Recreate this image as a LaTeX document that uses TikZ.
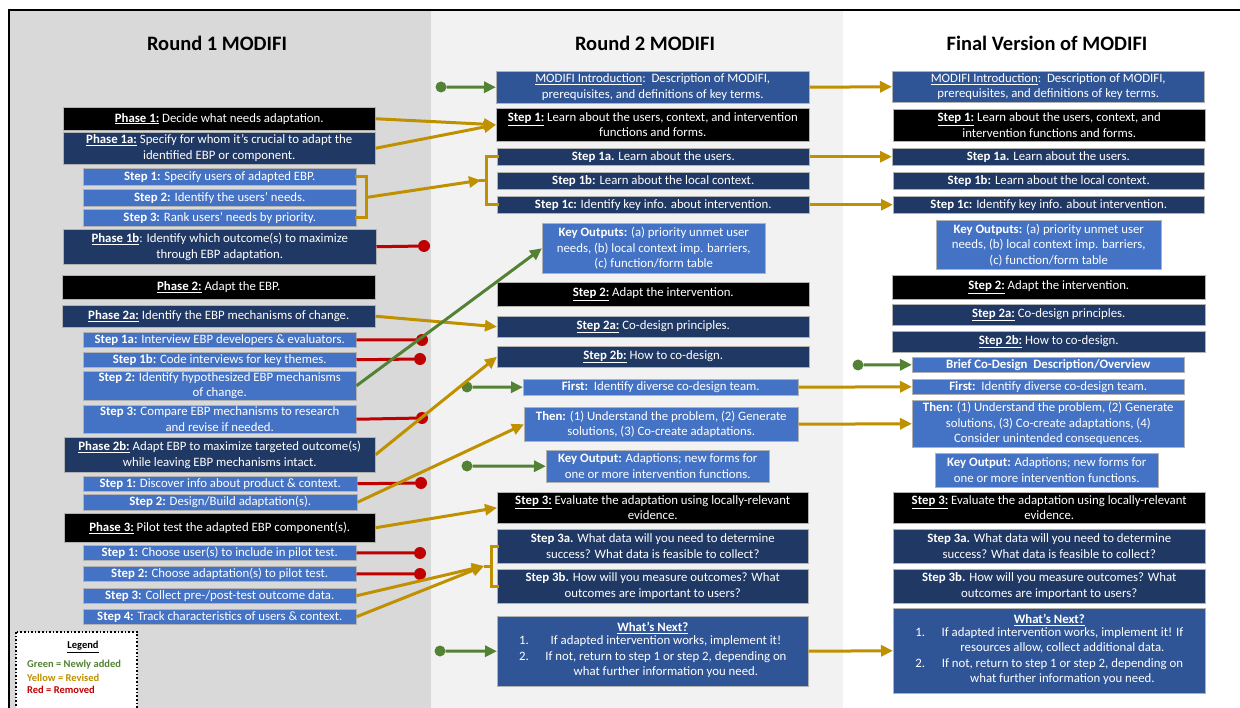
\documentclass[tikz,border=0pt]{standalone}
\usepackage{fontspec}
\setmainfont{Carlito}
\usetikzlibrary{arrows.meta}
\definecolor{navy}{HTML}{203864}
\definecolor{medblue}{HTML}{4472C4}
\definecolor{introblue}{HTML}{2F5597}
\definecolor{gold}{HTML}{BF9000}
\definecolor{redx}{HTML}{C00000}
\definecolor{greenx}{HTML}{548235}
\definecolor{colA}{HTML}{D9D9D9}
\definecolor{colB}{HTML}{F2F2F2}
\newcommand\fs{\fontsize{12.8}{15.5}\selectfont}
\newcommand\ulb[1]{\underline{\textbf{#1}}}
\tikzset{
 bx/.style={anchor=north west, inner sep=0pt, align=center, text=white, font=\fs, draw=black!30, line width=0.5pt},
 blk/.style={bx, fill=black},
 nav/.style={bx, fill=navy},
 med/.style={bx, fill=medblue},
 itr/.style={bx, fill=introblue},
 ttl/.style={font=\fontsize{20.5}{24}\selectfont\bfseries},
 yl/.style={line width=3pt, draw=gold},
 yarr/.style={yl, -{Triangle[length=12pt,width=11pt]}},
 garr/.style={line width=3pt, draw=greenx, -{Triangle[length=12pt,width=11pt]}},
 rl/.style={line width=3pt, draw=redx},
 rdot/.style={circle, fill=redx, inner sep=0pt, minimum size=12pt},
 gdot/.style={circle, fill=greenx, inner sep=0pt, minimum size=11pt},
 lg/.style={font=\fontsize{10.5}{12}\selectfont\bfseries, anchor=west, inner sep=0pt}
}
\begin{document}
\begin{tikzpicture}[x=1pt,y=-1pt]
\useasboundingbox (0,0) rectangle (1240,708);
% backgrounds
\fill[white] (0,0) rectangle (1240,708);
\fill[colA] (9,10) rectangle (431,708);
\fill[colB] (431,10) rectangle (843,708);
\draw[line width=2pt] (1245,10) -- (9,10) -- (9,712);
% titles
\node[ttl] (t1) at (217,43) {Round 1 MODIFI};
\node[ttl] (t2) at (645,43) {Round 2 MODIFI};
\node[ttl] (t3) at (1047,43) {Final Version of MODIFI};
% ---------- column 1
\node[blk, minimum width=312pt, minimum height=23pt] (p1) at (63,107) {\ulb{Phase 1:} Decide what needs adaptation.};
\node[nav, minimum width=312pt, minimum height=32pt] (p1a) at (63,132) {\ulb{Phase 1a:} Specify for whom it's crucial to adapt the\\identified EBP or component.};
\node[med, minimum width=273pt, minimum height=17pt] (s1) at (83,168) {\textbf{Step 1:} Specify users of adapted EBP.};
\node[med, minimum width=273pt, minimum height=17pt] (s2) at (83,189) {\textbf{Step 2:} Identify the users' needs.};
\node[med, minimum width=273pt, minimum height=17pt] (s3) at (83,209) {\textbf{Step 3:} Rank users' needs by priority.};
\node[nav, minimum width=313pt, minimum height=35pt] (p1b) at (63,229) {\ulb{Phase 1b}: Identify which outcome(s) to maximize\\through EBP adaptation.};
\node[blk, minimum width=313pt, minimum height=24pt] (p2) at (62,275) {\ulb{Phase 2:} Adapt the EBP.};
\node[nav, minimum width=313pt, minimum height=22pt] (p2a) at (62,305) {\ulb{Phase 2a:} Identify the EBP mechanisms of change.};
\node[med, minimum width=273pt, minimum height=15pt] (s1a) at (83,332) {\textbf{Step 1a:} Interview EBP developers \& evaluators.};
\node[med, minimum width=273pt, minimum height=15pt] (s1b) at (83,352) {\textbf{Step 1b:} Code interviews for key themes.};
\node[med, minimum width=273pt, minimum height=29pt] (s2m) at (83,371) {\textbf{Step 2:} Identify hypothesized EBP mechanisms\\of change.};
\node[med, minimum width=273pt, minimum height=28pt] (s3m) at (83,405) {\textbf{Step 3:} Compare EBP mechanisms to research\\and revise if needed.};
\node[nav, minimum width=311pt, minimum height=35pt] (p2b) at (64,437) {\ulb{Phase 2b:} Adapt EBP to maximize targeted outcome(s)\\while leaving EBP mechanisms intact.};
\node[med, minimum width=274pt, minimum height=15pt] (s1d) at (83,476) {\textbf{Step 1:} Discover info about product \& context.};
\node[med, minimum width=274pt, minimum height=16pt] (s2d) at (83,494) {\textbf{Step 2:} Design/Build adaptation(s).};
\node[blk, minimum width=311pt, minimum height=29pt] (p3) at (64,513) {\ulb{Phase 3:} Pilot test the adapted EBP component(s).};
\node[med, minimum width=273pt, minimum height=15pt] (s1p) at (83,545) {\textbf{Step 1:} Choose user(s) to include in pilot test.};
\node[med, minimum width=273pt, minimum height=15pt] (s2p) at (83,566) {\textbf{Step 2:} Choose adaptation(s) to pilot test.};
\node[med, minimum width=273pt, minimum height=15pt] (s3p) at (83,588) {\textbf{Step 3:} Collect pre-/post-test outcome data.};
\node[med, minimum width=273pt, minimum height=15pt] (s4p) at (83,609) {\textbf{Step 4:} Track characteristics of users \& context.};
% legend
\draw[line width=1.6pt, dotted, fill=white] (16,632) rectangle (137,712);
\node[font=\fontsize{10.5}{12}\selectfont\bfseries, inner sep=0pt] (lgt) at (83,647) {\underline{Legend}};
\node[lg, text=greenx] (lg1) at (27,665) {Green = Newly added};
\node[lg, text=gold] (lg2) at (27,678) {Yellow = Revised};
\node[lg, text=redx] (lg3) at (27,690) {Red = Removed};
% ---------- column 2
\node[itr, minimum width=313pt, minimum height=32pt] (intro) at (496,71) {\underline{MODIFI Introduction}:\ \ Description of MODIFI,\\prerequisites, and definitions of key terms.};
\node[blk, minimum width=313pt, minimum height=33pt] (st1) at (496,108) {\ulb{Step 1:} Learn about the users, context, and intervention\\functions and forms.};
\node[nav, minimum width=312pt, minimum height=17pt] (c1a) at (497,148) {\textbf{Step 1a.} Learn about the users.};
\node[nav, minimum width=312pt, minimum height=17pt] (c1b) at (497,172) {\textbf{Step 1b:} Learn about the local context.};
\node[nav, minimum width=312pt, minimum height=17pt] (c1c) at (497,196) {\textbf{Step 1c:} Identify key info. about intervention.};
\node[med, minimum width=223pt, minimum height=50pt] (ko) at (542,223) {\textbf{Key Outputs:} (a) priority unmet user\\needs, (b) local context imp. barriers,\\(c) function/form table};
\node[blk, minimum width=312pt, minimum height=24pt] (st2) at (497,282) {\ulb{Step 2:} Adapt the intervention.};
\node[nav, minimum width=312pt, minimum height=21pt] (c2a) at (497,316) {\ulb{Step 2a:} Co-design principles.};
\node[nav, minimum width=312pt, minimum height=21pt] (c2b) at (497,346) {\ulb{Step 2b:} How to co-design.};
\node[med, minimum width=275pt, minimum height=16pt] (first) at (523,379) {\textbf{First:}\ \ Identify diverse co-design team.};
\node[med, minimum width=274pt, minimum height=34pt] (then) at (524,407) {\textbf{Then:} (1) Understand the problem, (2) Generate\\solutions, (3) Co-create adaptations.};
\node[med, minimum width=223pt, minimum height=32pt] (kout) at (546,450) {\textbf{Key Output:} Adaptions; new forms for\\one or more intervention functions.};
\node[blk, minimum width=311pt, minimum height=31pt] (st3) at (497,492) {\ulb{Step 3:} Evaluate the adaptation using locally-relevant\\evidence.};
\node[nav, minimum width=311pt, minimum height=34pt] (c3a) at (497,529) {\textbf{Step 3a.} What data will you need to determine\\success? What data is feasible to collect?};
\node[nav, minimum width=311pt, minimum height=34pt] (c3b) at (497,569) {\textbf{Step 3b.} How will you measure outcomes? What\\outcomes are important to users?};
\node[itr, minimum width=311pt, minimum height=70pt] (wn) at (497,616) {\ulb{What's Next?}\\[-1pt]
\begin{tabular}{@{}r@{\hspace{1.3em}}c@{}}1. & If adapted intervention works, implement it!\\ 2. & If not, return to step 1 or step 2, depending on\\ & what further information you need.\end{tabular}};
% ---------- column 3
\node[itr, minimum width=312pt, minimum height=31pt] (intro3) at (892,71) {\underline{MODIFI Introduction}:\ \ Description of MODIFI,\\prerequisites, and definitions of key terms.};
\node[blk, minimum width=312pt, minimum height=32pt] (st13) at (893,109) {\ulb{Step 1:} Learn about the users, context, and\\intervention functions and forms.};
\node[nav, minimum width=312pt, minimum height=17pt] (d1a) at (892,148) {\textbf{Step 1a.} Learn about the users.};
\node[nav, minimum width=311pt, minimum height=17pt] (d1b) at (893,172) {\textbf{Step 1b:} Learn about the local context.};
\node[nav, minimum width=311pt, minimum height=17pt] (d1c) at (893,196) {\textbf{Step 1c:} Identify key info. about intervention.};
\node[med, minimum width=225pt, minimum height=49pt] (ko3) at (936,220) {\textbf{Key Outputs:} (a) priority unmet user\\needs, (b) local context imp. barriers,\\(c) function/form table};
\node[blk, minimum width=313pt, minimum height=24pt] (st23) at (892,275) {\ulb{Step 2:} Adapt the intervention.};
\node[nav, minimum width=313pt, minimum height=21pt] (d2a) at (892,304) {\ulb{Step 2a:} Co-design principles.};
\node[nav, minimum width=313pt, minimum height=21pt] (d2b) at (892,331) {\ulb{Step 2b:} How to co-design.};
\node[med, minimum width=272pt, minimum height=15pt] (brief) at (912,357) {\textbf{Brief Co-Design\ \ Description/Overview}};
\node[med, minimum width=272pt, minimum height=15pt] (first3) at (912,379) {\textbf{First:}\ \ Identify diverse co-design team.};
\node[med, minimum width=272pt, minimum height=47pt] (then3) at (912,400) {\textbf{Then:} (1) Understand the problem, (2) Generate\\solutions, (3) Co-create adaptations, (4)\\Consider unintended consequences.};
\node[med, minimum width=223pt, minimum height=34pt] (kout3) at (935,453) {\textbf{Key Output:} Adaptions; new forms for\\one or more intervention functions.};
\node[blk, minimum width=312pt, minimum height=31pt] (st33) at (893,492) {\ulb{Step 3:} Evaluate the adaptation using locally-relevant\\evidence.};
\node[nav, minimum width=312pt, minimum height=34pt] (d3a) at (893,529) {\textbf{Step 3a.} What data will you need to determine\\success? What data is feasible to collect?};
\node[nav, minimum width=312pt, minimum height=34pt] (d3b) at (893,569) {\textbf{Step 3b.} How will you measure outcomes? What\\outcomes are important to users?};
\node[itr, minimum width=312pt, minimum height=85pt] (wn3) at (893,608) {\ulb{What's Next?}\\[-1pt]
\begin{tabular}{@{}r@{\hspace{1.3em}}c@{}}1. & If adapted intervention works, implement it! If\\ & resources allow, collect additional data.\\ 2. & If not, return to step 1 or step 2, depending on\\ & what further information you need.\end{tabular}};
% ---------- connector helper coordinates
\coordinate (bA) at (366,197.5);
\coordinate (bB) at (479,180.5);
\coordinate (bC) at (484,566);
\node[gdot] (g1) at (441,87) {};
\node[gdot] (g2) at (467,387) {};
\node[gdot] (g3) at (467,466) {};
\node[gdot] (g4) at (440,651) {};
\node[gdot] (g5) at (858,365) {};
\node[rdot] (r1) at (424,246) {};
\node[rdot] (r2) at (422,340) {};
\node[rdot] (r3) at (420,359) {};
\node[rdot] (r4) at (422,418) {};
\node[rdot] (r5) at (421,483) {};
\node[rdot] (r6) at (420,553) {};
\node[rdot] (r7) at (420,574) {};
% ---------- red (removed)
\draw[rl] (p1b.east) -- (r1);
\draw[rl] (s1a.east) -- (r2);
\draw[rl] (s1b.east) -- (r3);
\draw[rl] (s3m.east) -- (r4);
\draw[rl] (s1d.east) -- (r5);
\draw[rl] (s1p.east) -- (r6);
\draw[rl] (s2p.east) -- (r7);
% ---------- yellow (revised) col1 -> col2
\draw[yarr] (p1.east) -- (st1.west);
\draw[yarr] (p1a.east) -- (st1.west);
\draw[yl, line cap=rect] (s1.east) -- (s1.east -| bA) -- (s3.east -| bA) -- (s3.east);
\draw[yl] (s2.east -| bA) -- (bA);
\draw[yarr, shorten >=-2pt] (bA) -- (bB);
\draw[yl, line cap=rect] (c1a.west) -- ++(-11,0) |- (c1c.west);
\draw[yl] (c1b.west) ++(-11,0) -- ++(-7,0);
\draw[yarr] (p2a.east) -- (c2a.west);
\draw[yarr] (p2b.east) -- (c2b.west);
\draw[yarr] (s2d.east) -- (then.west);
\draw[yarr] (p3.east) -- (st3.west);
\draw[yarr] (s3p.east) -- (bC);
\draw[yarr] (s4p.east) -- (bC);
\draw[yl, line cap=rect] (c3a.west) -- ++(-6,0) |- (c3b.west);
\draw[yl] (c3a.west |- bC) ++(-6,0) -- (bC);
% ---------- green (new)
\draw[garr] (g1) -- (intro.west);
\draw[garr] (s2m.east) -- (ko.west);
\draw[garr] (g2) -- (first.west);
\draw[garr] (g3) -- (kout.west);
\draw[garr] (g4) -- (wn.west);
\draw[garr] (g5) -- (brief.west);
% ---------- col2 -> col3
\draw[yarr] (intro.east) -- (intro3.west);
\draw[yarr] (c1a.east) -- (d1a.west);
\draw[yarr] (c1c.east) -- (d1c.west);
\draw[yarr] (first.east) -- (first3.west);
\draw[yarr] (then.east) -- (then3.west);
\draw[yarr] (wn.east) -- (wn3.west);
\end{tikzpicture}
\end{document}
